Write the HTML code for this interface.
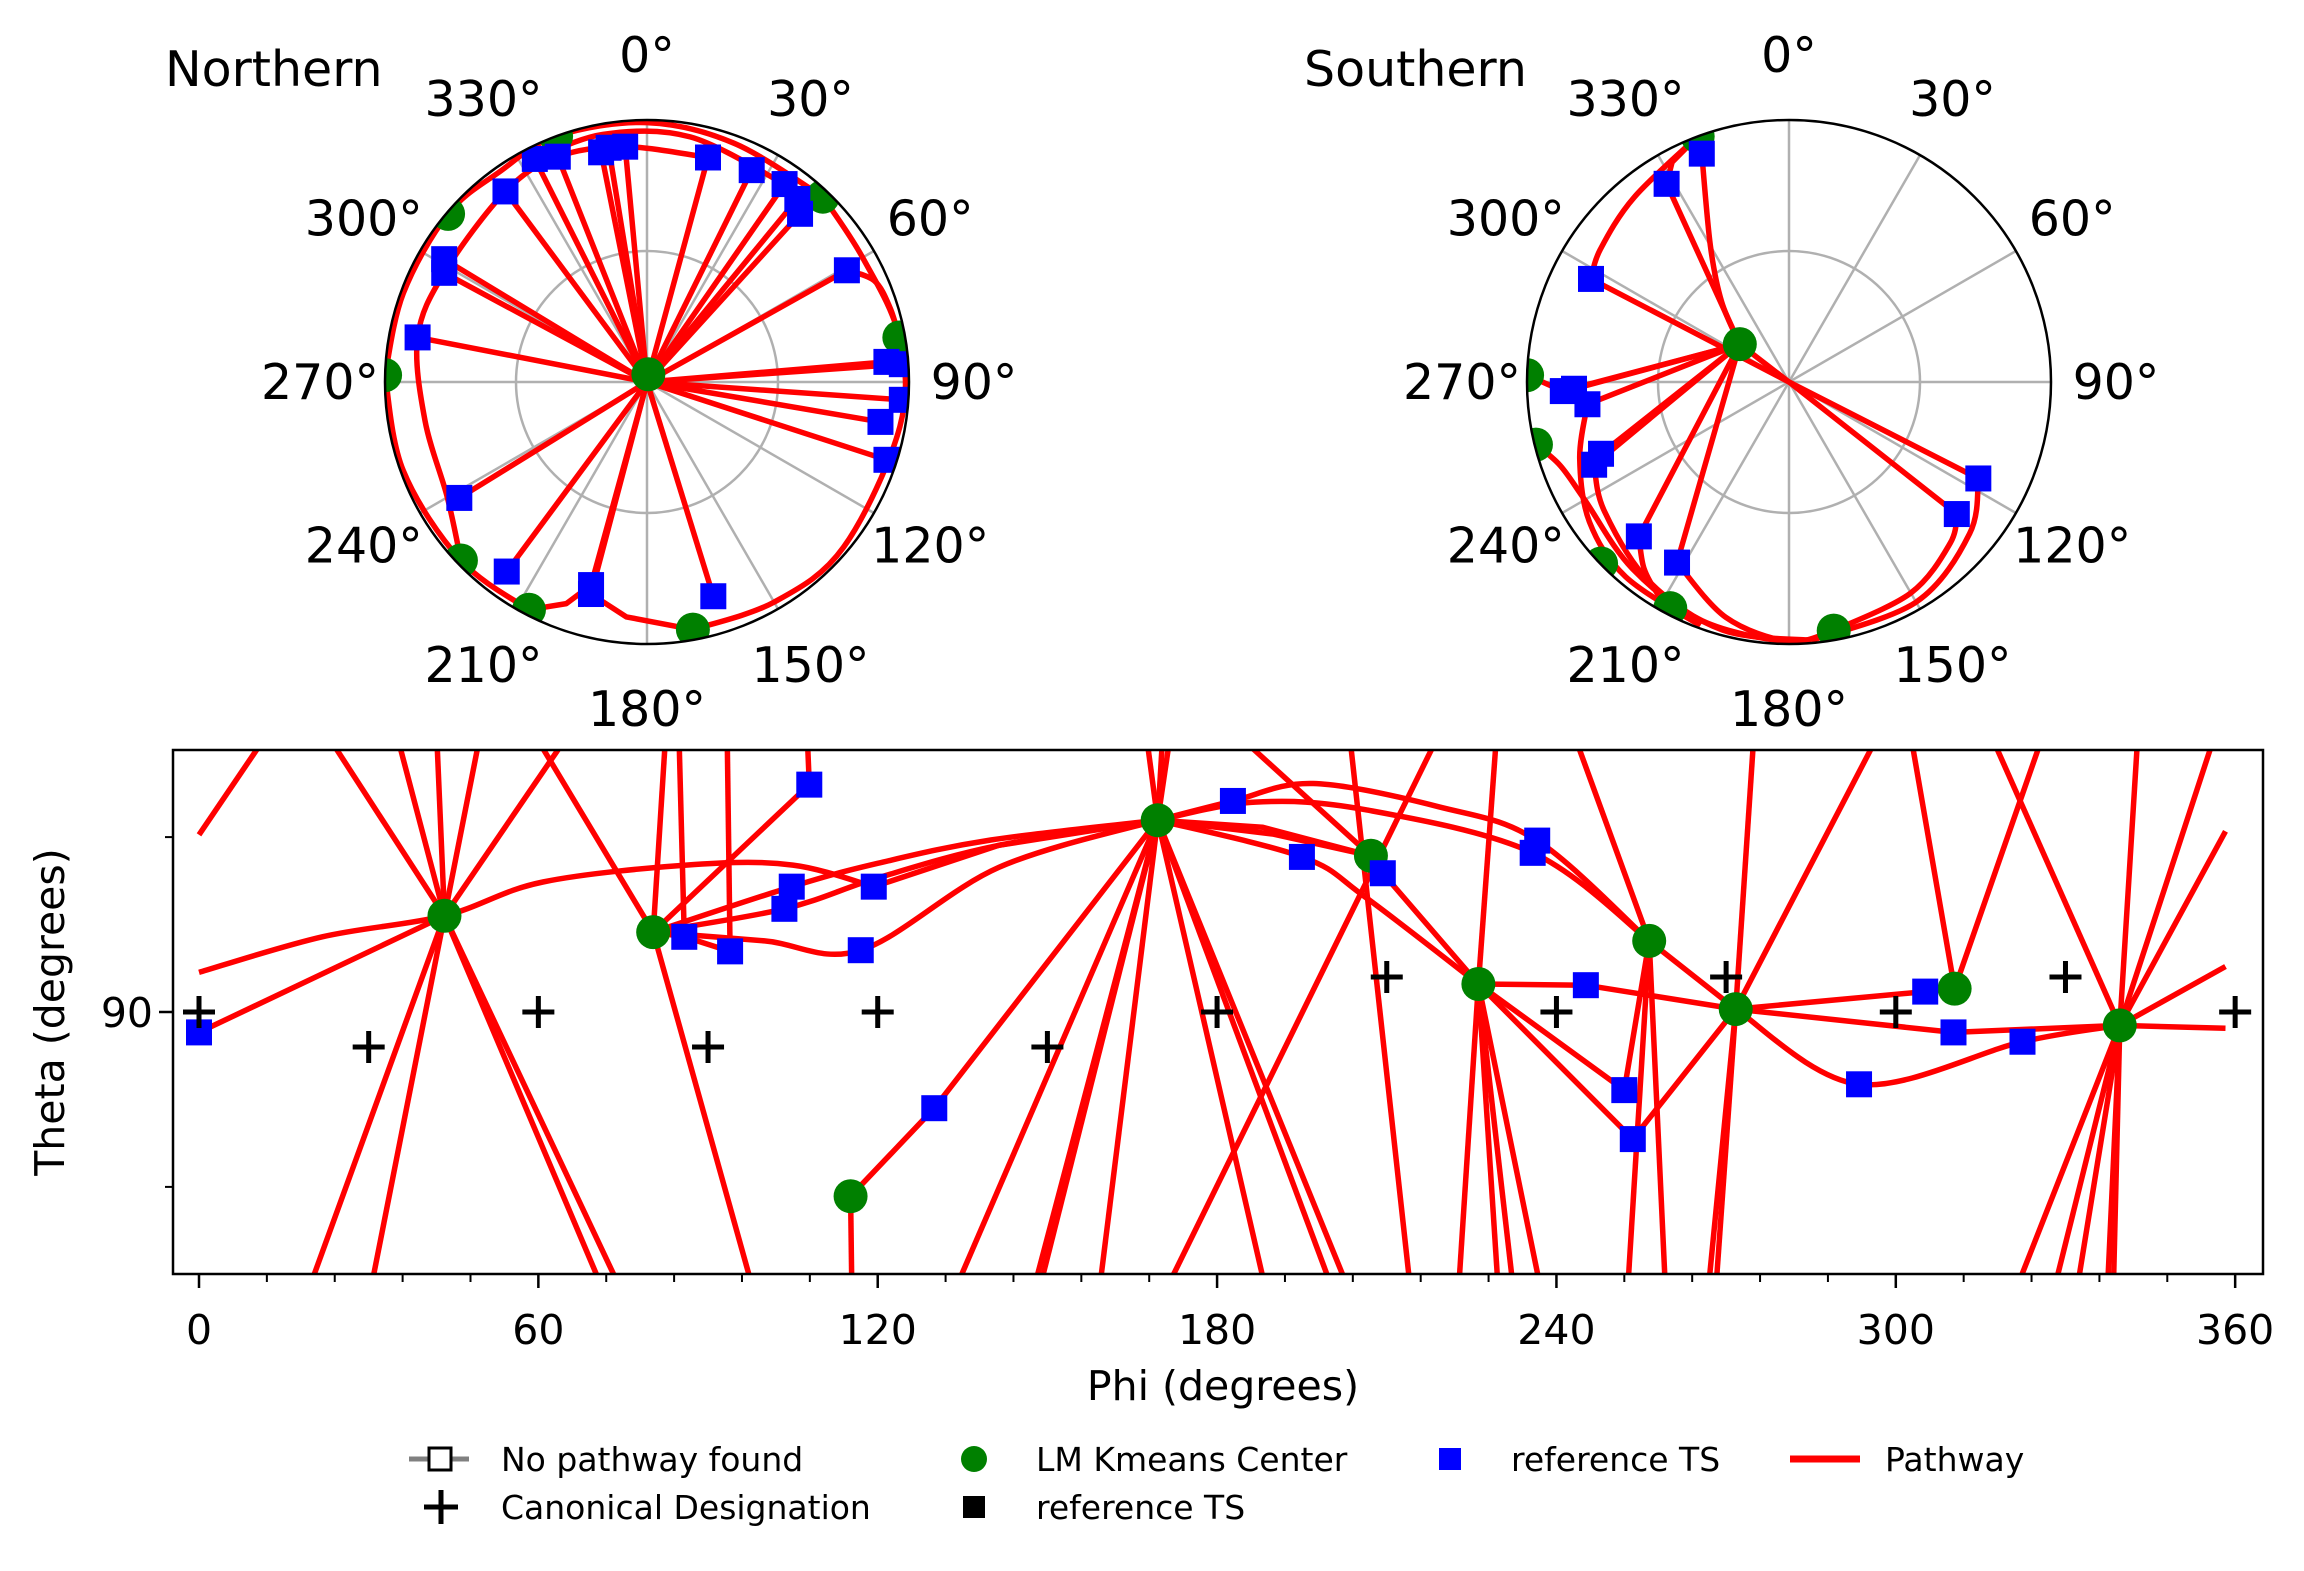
<!DOCTYPE html>
<html><head><meta charset="utf-8"><style>
html,body{margin:0;padding:0;background:#fff;}
svg{display:block;font-family:"DejaVu Sans","Liberation Sans",sans-serif;}
</style></head><body>
<svg id="fig" width="2304" height="1571" viewBox="0 0 2304 1571" xmlns="http://www.w3.org/2000/svg">
<defs>
<clipPath id="clipMain"><rect x="173" y="750" width="2090" height="524"/></clipPath>
<clipPath id="clipN"><circle cx="647" cy="382" r="262"/></clipPath>
<clipPath id="clipS"><circle cx="1789" cy="382" r="262"/></clipPath>
</defs>
<g id="polarN"></g>
<g id="polarS"></g>
<g id="main"></g>
<text x="165" y="86" font-size="49">Northern</text>
<text x="1304" y="86" font-size="49">Southern</text>
<text x="1223" y="1400" font-size="41" text-anchor="middle">Phi (degrees)</text>
<text x="0" y="0" font-size="41" text-anchor="middle" transform="translate(64,1012) rotate(-90)">Theta (degrees)</text>
<g id="legend">
  <g>
    <line x1="409" y1="1459" x2="469" y2="1459" stroke="#808080" stroke-width="5"/>
    <rect x="429" y="1448" width="22" height="22" fill="#fff" stroke="#000" stroke-width="3"/>
    <text x="501" y="1471" font-size="33">No pathway found</text>
  </g>
  <g>
    <path d="M424 1507 H458 M441 1490 V1524" stroke="#000" stroke-width="5"/>
    <text x="501" y="1519" font-size="33">Canonical Designation</text>
  </g>
  <g>
    <circle cx="974" cy="1459" r="13" fill="#008000"/>
    <text x="1036" y="1471" font-size="33">LM Kmeans Center</text>
  </g>
  <g>
    <rect x="963" y="1496" width="22" height="22" fill="#000"/>
    <text x="1036" y="1519" font-size="33">reference TS</text>
  </g>
  <g>
    <rect x="1439" y="1448" width="22" height="22" fill="#0000ff"/>
    <text x="1511" y="1471" font-size="33">reference TS</text>
  </g>
  <g>
    <line x1="1790" y1="1459" x2="1860" y2="1459" stroke="#ff0000" stroke-width="7"/>
    <text x="1885" y="1471" font-size="33">Pathway</text>
  </g>
</g>
</svg>
<script>
// ---------- Bottom chart data ----------
const centerPhi   = [43.4, 80.3, 115.2, 169.5, 207.2, 226.2, 256.4, 271.7, 310.4, 339.6];
const centerTheta = [73.5, 76.3, 121.6, 57.1, 63.2, 85.2, 77.8, 89.5, 86.0, 92.3];
const tsPhi   = [0, 85.8, 93.9, 103.5, 104.8, 107.9, 119.3, 117, 130, 182.8, 195, 209.3, 235.8, 236.6, 245.2, 252, 253.5, 293.5, 305.2, 310.2, 322.4];
const tsTheta = [93.5, 77.1, 79.6, 72.3, 68.5, 51, 68.5, 79.4, 106.5, 53.8, 63.4, 66.2, 62.7, 60.6, 85.4, 103.4, 111.8, 102.4, 86.5, 93.5, 95.1];
const canonPhi   = [0, 30, 60, 90, 120, 150, 180, 210, 240, 270, 300, 330, 360];
const canonTheta = [90, 96, 90, 96, 90, 96, 90, 84, 90, 84, 90, 84, 90];
const xTickValues = [0, 60, 120, 180, 240, 300, 360];
const xTickLabels = ["0", "60", "120", "180", "240", "300", "360"];
const yTickValues = [90];
const yTickLabels = ["90"];
const pathways = [
 [[0,59.6],[10.9,44]],
 [[0,83.2],[21.8,77.1],[43.4,73.5],[60.8,67.7],[87.6,64.7],[105,64.8],[119.3,68.5]],
 [[43.4,73.5],[0,93.5]],
 [[43.4,73.5],[23.7,44]],[[43.4,73.5],[35.4,44]],[[43.4,73.5],[42.1,44]],[[43.4,73.5],[49.4,44]],[[43.4,73.5],[64.2,44]],
 [[43.4,73.5],[20,136]],[[43.4,73.5],[30.7,136]],[[43.4,73.5],[70.7,136]],[[43.4,73.5],[73.8,136]],
 [[80.3,76.3],[60.3,44]],
 [[80.3,76.3],[82.4,44]],
 [[84.9,44],[85.8,77.1]],
 [[93.4,44],[93.9,79.6]],
 [[80.3,76.3],[97.5,136]],
 [[80.3,76.3],[107.9,51],[107.6,44]],
 [[80.3,76.3],[104.8,68.5],[120,64.5],[140,60.5],[169.5,57.1]],
 [[80.3,76.3],[103.5,72.3],[120,67],[141,61.5],[169.5,57.1]],
 [[80.3,76.3],[85.8,77.1],[93.9,79.6]],
 [[80.3,76.3],[100,77.8],[117,79.4],[141.4,65.2],[169.5,57.1]],
 [[119.3,68.5],[141.4,61.4],[169.5,57.1]],
 [[115.2,121.6],[130,106.5],[169.5,57.1]],
 [[115.2,121.6],[115.4,136]],
 [[169.5,57.1],[134.4,136]],[[169.5,57.1],[148,136]],[[169.5,57.1],[149,136]],[[169.5,57.1],[159.4,136]],
 [[169.5,57.1],[188.2,136]],[[169.5,57.1],[199.8,136]],[[169.5,57.1],[202.6,136]],
 [[169.5,57.1],[167.7,44]],[[169.5,57.1],[170.3,44]],[[169.5,57.1],[171.5,44]],
 [[169.5,57.1],[182.8,53.8],[197,50.8],[219.2,54.8],[236.6,60.6],[256.4,77.8]],
 [[169.5,57.1],[186.7,54],[206.2,55.3],[235.8,62.7],[256.4,77.8]],
 [[169.5,57.1],[195,63.4],[206.2,70.3],[226.2,85.2]],
 [[169.5,57.1],[190,59.5],[207.2,63.2]],
 [[169.5,57.1],[188,58.3],[207.2,63.2]],
 [[207.2,63.2],[209.3,66.2],[226.2,85.2]],
 [[185.4,44],[207.2,63.2]],
 [[203.6,44],[214,136]],
 [[218.4,44],[171.8,136]],
 [[229.3,44],[226.2,85.2]],
 [[226.2,85.2],[222.8,136]],[[226.2,85.2],[229.6,136]],[[226.2,85.2],[232.2,136]],[[226.2,85.2],[236.9,136]],
 [[226.2,85.2],[245.2,85.4],[271.7,89.5]],
 [[226.2,85.2],[252,103.4],[256.4,77.8]],
 [[226.2,85.2],[253.5,111.8],[271.7,89.5]],
 [[256.4,77.8],[252.7,136]],[[256.4,77.8],[259.2,136]],
 [[256.4,77.8],[271.7,89.5]],
 [[243.7,44],[256.4,77.8]],
 [[271.7,89.5],[274.8,44]],[[271.7,89.5],[296.1,44]],
 [[271.7,89.5],[267,136]],[[271.7,89.5],[268.3,136]],
 [[271.7,89.5],[305.2,86.5],[310.4,86]],
 [[271.7,89.5],[310.2,93.5],[339.6,92.3]],
 [[271.7,89.5],[293.5,102.4],[322.4,95.1],[339.6,92.3]],
 [[310.4,86],[302.9,44]],[[310.4,86],[325.5,44]],
 [[339.6,92.3],[317.5,44]],[[339.6,92.3],[342.7,44]],[[339.6,92.3],[355.9,44]],
 [[339.6,92.3],[358.3,59]],[[339.6,92.3],[358.3,82.2]],[[339.6,92.3],[358.3,92.8]],
 [[339.6,92.3],[321.9,136]],[[339.6,92.3],[328.4,136]],[[339.6,92.3],[332.3,136]],[[339.6,92.3],[337.5,136]],[[339.6,92.3],[338.5,136]]
];

// ---------- Polar data (angle deg clockwise from top, radius fraction) ----------
const northTsAngle  = [15.2,26.3,34.8,39.4,42.3,60.8,85.2,86,94,99.7,108,162.8,195.4,194.8,216.5,238.3,281,301.2,298.3,323.4,333.3,338.4,348.7,350.7,354.7];
const northTsRadius = [0.888,0.902,0.92,0.904,0.868,0.874,0.917,0.975,0.975,0.904,0.961,0.856,0.804,0.837,0.9,0.842,0.892,0.905,0.879,0.906,0.953,0.925,0.894,0.906,0.902];
const northCenterAngle  = [10,43.5,339.7,310.2,271.5,80,226.2,207.4,169.5];
const northCenterRadius = [0.03,0.975,1.0,0.994,1.0,0.978,0.984,0.979,0.961];
const northArcs = [
 [[271.5,1.0],[290,0.99],[310.2,0.994],[325,0.98],[339.7,1.0],[0,0.99],[20,0.97],[43.5,0.975]],
 [[43.5,0.975],[60,0.95],[80,0.978],[100,0.98],[130,0.98],[150,0.97],[169.5,0.961]],
 [[169.5,0.961],[185,0.9],[194.8,0.837]],
 [[195.4,0.804],[200,0.9],[207.4,0.979]],
 [[207.4,0.979],[226.2,0.984],[250,0.99],[271.5,1.0]],
 [[226.2,0.984],[240,0.88],[260,0.86],[281,0.892],[298.3,0.879],[323.4,0.906],[338.4,0.925],[354.7,0.902],[15.2,0.888]],
 [[60.8,0.874],[66,0.95],[73,0.97],[80,0.978]],
 [[333.3,0.953],[350,0.96],[10,0.95],[34.8,0.92]]
];
const southTsAngle  = [339.1,328.3,297.5,267.7,268.2,263.7,249.1,247,224.2,211.8,128.2,117];
const southTsRadius = [0.933,0.889,0.852,0.864,0.821,0.774,0.768,0.808,0.822,0.811,0.815,0.811];
const southCenterAngle  = [307.6,339.6,271.5,256.1,226,207.7,169.8];
const southCenterRadius = [0.237,1.0,1.0,0.995,0.997,0.975,0.964];
const southArcs = [
 [[307.6,0.237],[268.2,0.821]],[[307.6,0.237],[267.7,0.864]],[[307.6,0.237],[263.7,0.774]],
 [[307.6,0.237],[249.1,0.768]],[[307.6,0.237],[247,0.808]],[[307.6,0.237],[224.2,0.822]],
 [[307.6,0.237],[211.8,0.811]],[[307.6,0.237],[328.3,0.889]],
 [[307.6,0.237],[320,0.4],[330,0.6],[339.1,0.933]],
 [[297.5,0.852],[0,0],[117,0.811]],
 [[307.6,0.237],[0,0],[128.2,0.815]],
 [[339.1,0.933],[339.6,1.0]],
 [[328.3,0.889],[332,0.95],[339.6,1.0]],
 [[339.6,1.0],[320,0.92],[305,0.88],[297.5,0.852]],
 [[271.5,1.0],[267.7,0.864]],
 [[256.1,0.995],[250,0.93],[240,0.9],[220,0.93],[200,0.97],[180,0.99],[169.8,0.964]],
 [[247,0.808],[235,0.86],[215,0.93],[195,0.98],[175,0.99]],
 [[263.7,0.774],[250,0.85],[235,0.93],[220,0.97],[200,0.99]],
 [[211.8,0.811],[195,0.93],[180,0.99],[169.8,0.964]],
 [[224.2,0.822],[218,0.9],[212,0.95],[207.7,0.975]],
 [[169.8,0.964],[150,0.93],[135,0.87],[128.2,0.815]],
 [[175,0.99],[150,0.97],[130,0.9],[117,0.811]]
];
const polarTickAngles = [0,30,60,90,120,150,180,210,240,270,300,330];
const polarTickLabels = ["0°","30°","60°","90°","120°","150°","180°","210°","240°","270°","300°","330°"];

// ---------- helpers ----------
const NS = "http://www.w3.org/2000/svg";
function mk(tag, attrs, parent){
  const e = document.createElementNS(NS, tag);
  for (const k in attrs) e.setAttribute(k, attrs[k]);
  parent.appendChild(e);
  return e;
}
function smoothPath(pts){
  if (pts.length < 4) return "M" + pts.map(p => p[0].toFixed(1)+" "+p[1].toFixed(1)).join(" L");
  let d = "M" + pts[0][0].toFixed(1) + " " + pts[0][1].toFixed(1);
  for (let i = 0; i < pts.length - 1; i++){
    const p0 = pts[i-1] || pts[i], p1 = pts[i], p2 = pts[i+1], p3 = pts[i+2] || p2;
    const c1 = [p1[0] + (p2[0]-p0[0])/6, p1[1] + (p2[1]-p0[1])/6];
    const c2 = [p2[0] - (p3[0]-p1[0])/6, p2[1] - (p3[1]-p1[1])/6];
    d += " C" + c1.map(v=>v.toFixed(1)).join(" ") + " " + c2.map(v=>v.toFixed(1)).join(" ") + " " + p2[0].toFixed(1) + " " + p2[1].toFixed(1);
  }
  return d;
}

// ---------- bottom chart ----------
const AX = {left:173, right:2263, top:750, bottom:1274};
const xScale = phi => 199 + phi * 5.656;
const yScale = th => 1012 + (th - 90) * 5.83;
const main = document.getElementById("main");
const plotG = mk("g", {"clip-path":"url(#clipMain)"}, main);


pathways.forEach((pw, i) => {
  const p = mk("path", {d: smoothPath(pw.map(q => [xScale(q[0]), yScale(q[1])])), fill:"none", stroke:"#ff0000", "stroke-width":5.5, "stroke-linejoin":"round"}, plotG);
  
  
});
canonPhi.forEach((ph, i) => {
  const x = xScale(ph), y = yScale(canonTheta[i]);
  const p = mk("path", {d:`M${x-16} ${y} H${x+16} M${x} ${y-16} V${y+16}`, stroke:"#000", "stroke-width":5}, main);
  
  
});
centerPhi.forEach((ph, i) => {
  const c = mk("circle", {cx:xScale(ph), cy:yScale(centerTheta[i]), r:17, fill:"#008000"}, plotG);
  
  
});
tsPhi.forEach((ph, i) => {
  const r = mk("rect", {x:xScale(ph)-13, y:yScale(tsTheta[i])-13, width:26, height:26, fill:"#0000ff"}, plotG);
  
  
});
const frame = mk("rect", {x:AX.left, y:AX.top, width:AX.right-AX.left, height:AX.bottom-AX.top, fill:"none", stroke:"#000", "stroke-width":2.5}, main);


xTickValues.forEach((v, i) => {
  const x = xScale(v);
  const t = mk("line", {x1:x, y1:AX.bottom, x2:x, y2:AX.bottom+14, stroke:"#000", "stroke-width":2.5}, main);
  
  
  const l = mk("text", {x:x, y:1344, "font-size":41, "text-anchor":"middle"}, main);
  l.textContent = xTickLabels[i];
  
  
});
for (let v = 12; v < 360; v += 12){
  if (v % 60 === 0) continue;
  const x = xScale(v);
  const t = mk("line", {x1:x, y1:AX.bottom, x2:x, y2:AX.bottom+8, stroke:"#000", "stroke-width":2}, main);
  
  
}
yTickValues.forEach((v, i) => {
  const y = yScale(v);
  const t = mk("line", {x1:AX.left-14, y1:y, x2:AX.left, y2:y, stroke:"#000", "stroke-width":2.5}, main);
  
  
  const l = mk("text", {x:AX.left-20, y:y+15, "font-size":41, "text-anchor":"end"}, main);
  l.textContent = yTickLabels[i];
  
  
});
[60, 120].forEach(v => {
  const y = yScale(v);
  const t = mk("line", {x1:AX.left-8, y1:y, x2:AX.left, y2:y, stroke:"#000", "stroke-width":2}, main);
  
  
});

// ---------- polar charts ----------
function drawPolar(gid, cx, cy, clipId, lines, fromCenter, cAng, cRad, tAng, tRad){
  const R = 262;
  const g = document.getElementById(gid);
  const P = (a, r) => [cx + r*R*Math.sin(a*Math.PI/180), cy - r*R*Math.cos(a*Math.PI/180)];
  const bg = mk("circle", {cx:cx, cy:cy, r:R, fill:"#fff"}, g);
  
  
  const gc = mk("circle", {cx:cx, cy:cy, r:R*0.5, fill:"none", stroke:"#b0b0b0", "stroke-width":2.5}, g);
  
  
  polarTickAngles.forEach((a, i) => {
    const e = P(a, 1);
    const gl = mk("line", {x1:cx, y1:cy, x2:e[0], y2:e[1], stroke:"#b0b0b0", "stroke-width":2.5}, g);
    
    
    const lp = P(a, 327/262);
    const t = mk("text", {x:lp[0], y:lp[1]+17, "font-size":49, "text-anchor":"middle"}, g);
    t.textContent = polarTickLabels[i];
    
    
  });
  const cg = mk("g", {"clip-path":`url(#${clipId})`}, g);
  
  
  lines.forEach(l => {
    const p = mk("path", {d: smoothPath(l.map(q => P(q[0], q[1]))), fill:"none", stroke:"#ff0000", "stroke-width":5.5, "stroke-linejoin":"round"}, cg);
    
    
  });
  if (fromCenter){
    tAng.forEach((a, i) => {
      const s = P(0, 0), e = P(a, tRad[i]);
      const p = mk("line", {x1:s[0], y1:s[1], x2:e[0], y2:e[1], stroke:"#ff0000", "stroke-width":5.5}, cg);
      
      
    });
  }
  cAng.forEach((a, i) => {
    const q = P(a, cRad[i]);
    const c = mk("circle", {cx:q[0], cy:q[1], r:17, fill:"#008000"}, cg);
    
    
  });
  tAng.forEach((a, i) => {
    const q = P(a, tRad[i]);
    const r = mk("rect", {x:q[0]-13, y:q[1]-13, width:26, height:26, fill:"#0000ff"}, cg);
    
    
  });
  const b = mk("circle", {cx:cx, cy:cy, r:R, fill:"none", stroke:"#000", "stroke-width":2.5}, g);
  
  
}
drawPolar("polarN", 647, 382, "clipN", northArcs, true, northCenterAngle, northCenterRadius, northTsAngle, northTsRadius);
drawPolar("polarS", 1789, 382, "clipS", southArcs, false, southCenterAngle, southCenterRadius, southTsAngle, southTsRadius);
</script>
</body></html>
